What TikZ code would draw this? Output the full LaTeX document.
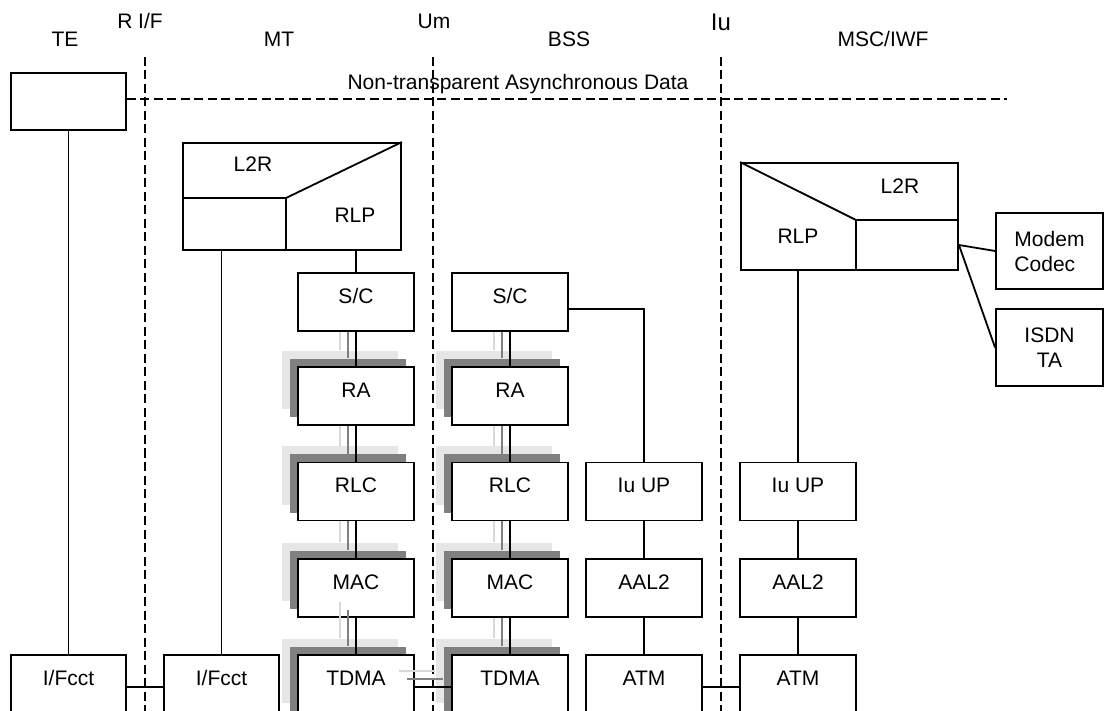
\documentclass[tikz,border=0pt]{standalone}
\usepackage{fontspec}
\setmainfont{Liberation Sans}
\usetikzlibrary{calc,shadows}
\definecolor{lightg}{HTML}{E6E6E6}
\definecolor{darkg}{HTML}{808080}
\definecolor{lightl}{HTML}{D9D9D9}
\newcommand{\tripl}[2]{%
  \draw[lnkl] ($(#1.south)+(-16,0)$) -- ($(#2.north)+(-16,-16)$);
  \draw[lnkd] ($(#1.south)+(-8,0)$) -- ($(#2.north)+(-8,-8)$);
  \draw[lnk] (#1) -- (#2);}
\begin{document}
\begin{tikzpicture}[x=1pt,y=-1pt,
  every node/.style={font=\fontsize{21}{25}\selectfont, inner sep=0pt},
  box/.style={draw, fill=white, line width=1.9pt, minimum width=116pt, minimum height=58pt, text depth=12pt},
  botbox/.style={box, minimum height=64pt, text depth=18pt},
  shad/.style={copy shadow={shadow xshift=-16pt, shadow yshift=16pt, fill=lightg, draw=none},
               copy shadow={shadow xshift=-8pt, shadow yshift=8pt, fill=darkg, draw=none}},
  lnk/.style={line width=1.8pt},
  lnkd/.style={line width=1.8pt, draw=darkg},
  lnkl/.style={line width=1.8pt, draw=lightl},
  sep/.style={line width=1.8pt, dash pattern=on 9pt off 4.5pt},
  lbl/.style={anchor=base},
]
\useasboundingbox (0,0) rectangle (1104,711);
\clip (0,0) rectangle (1104,711);

% separators
\coordinate (rt) at (145,57); \coordinate (rb) at (145,711);
\coordinate (ut) at (433,57); \coordinate (ub) at (433,711);
\coordinate (it) at (721,57); \coordinate (ib) at (721,711);
\draw[sep] (rt) -- (rb);
\draw[sep] (ut) -- (ub);
\draw[sep] (it) -- (ib);

% header labels
\node[lbl] (lte) at (65,47) {TE};
\node[lbl] (lrif) at (140,29) {R I/F};
\node[lbl] (lmt) at (279,47) {MT};
\node[lbl] (lum) at (434,29) {Um};
\node[lbl] (lbss) at (569,47) {BSS};
\node[lbl, font=\fontsize{24}{28}\selectfont] (liu) at (721,31) {Iu};
\node[lbl] (lmsc) at (883,47) {MSC/IWF};
\node[lbl] (lnt) at (518,90) {Non-transparent Asynchronous Data};

% TE
\node[box, minimum width=115pt, minimum height=57pt] (tebox) at (68.5,101.5) {};
\coordinate (dend) at (1007,99);
\draw[sep] (tebox.east |- dend) -- (dend);

% MT L2R/RLP
\node[draw, line width=1.9pt, minimum width=218pt, minimum height=107pt] (l2rmt) at (292,196.5) {};
\coordinate (mtk) at (286,198);
\draw[lnk] (l2rmt.west |- mtk) -- (mtk) -- (mtk |- l2rmt.south);
\draw[lnk] (mtk) -- (l2rmt.north east);
\node (tl2rmt) at (253,164) {L2R};
\node (trlpmt) at (355,215) {RLP};

% MSC L2R/RLP
\node[draw, line width=1.9pt, minimum width=217pt, minimum height=107pt] (l2rmsc) at (849.5,216.5) {};
\coordinate (mk) at (856,220);
\draw[lnk] (l2rmsc.north west) -- (mk) -- (l2rmsc.east |- mk);
\draw[lnk] (mk) -- (mk |- l2rmsc.south);
\node (tl2rmsc) at (900,186) {L2R};
\node (trlpmsc) at (798,236) {RLP};

\node[draw, line width=1.9pt, minimum width=107pt, minimum height=76pt, align=left] (modem) at (1049.5,251) {Modem\\Codec};
\node[draw, line width=1.9pt, minimum width=107pt, minimum height=77pt, align=center] (isdn) at (1049.5,347.5) {ISDN\\TA};
\coordinate (lp) at ($(l2rmsc.east)+(0,28.5)$);
\draw[lnk] (lp) -- (modem.west);
\draw[lnk] (lp) -- (isdn.west);

% bottom interface boxes
\node[botbox, minimum width=115pt] (ifte) at (68.5,687) {I/Fcct};
\node[botbox, minimum width=115pt] (ifmt) at (221.5,687) {I/Fcct};

% MT stack
\node[box] (scmt) at (356,302) {S/C};
\node[box, shad] (ramt) at (356,396) {RA};
\node[box, shad] (rlcmt) at (356,491.5) {RLC};
\node[box, shad] (macmt) at (356,588) {MAC};
\node[botbox, shad] (tdmamt) at (356,687) {TDMA};

% BSS stack
\node[box] (scbss) at (510,302) {S/C};
\node[box, shad] (rabss) at (510,396) {RA};
\node[box, shad] (rlcbss) at (510,491.5) {RLC};
\node[box, shad] (macbss) at (510,588) {MAC};
\node[botbox, shad] (tdmabss) at (510,687) {TDMA};

\node[box] (iubss) at (644,491.5) {Iu UP};
\node[box] (aalbss) at (644,588) {AAL2};
\node[botbox] (atmbss) at (644,687) {ATM};

\node[box] (iumsc) at (798,491.5) {Iu UP};
\node[box] (aalmsc) at (798,588) {AAL2};
\node[botbox] (atmmsc) at (798,687) {ATM};

% connectors
\draw[lnk] (ifte) -- (tebox);
\draw[lnk] (ifte) -- (ifmt);
\draw[lnk] (ifmt.north) -- (ifmt.north |- l2rmt.south);
\draw[lnk] (scmt.north) -- (scmt.north |- l2rmt.south);
\draw[lnk] (iumsc.north) -- (iumsc.north |- l2rmsc.south);

\tripl{scmt}{ramt}
\tripl{ramt}{rlcmt}
\tripl{rlcmt}{macmt}
\draw[lnkl] ($(macmt.south)+(-16,-16)$) -- ($(tdmamt.north)+(-16,-16)$);
\draw[lnkd] ($(macmt.south)+(-8,-8)$) -- ($(tdmamt.north)+(-8,-8)$);
\draw[lnk] (macmt) -- (tdmamt);

\tripl{scbss}{rabss}
\tripl{rabss}{rlcbss}
\tripl{rlcbss}{macbss}
\tripl{macbss}{tdmabss}

\draw[lnkl] ($(tdmamt.east)+(-16,-16)$) -- ($(tdmabss.west)+(-16,-16)$);
\draw[lnkd] ($(tdmamt.east)+(-8,-8)$) -- ($(tdmabss.west)+(-8,-8)$);
\draw[lnk] (tdmamt) -- (tdmabss);

\draw[lnk] ([yshift=-7pt]scbss.east) -| (iubss.north);
\draw[lnk] (iubss) -- (aalbss);
\draw[lnk] (aalbss) -- (atmbss);
\draw[lnk] (iumsc) -- (aalmsc);
\draw[lnk] (aalmsc) -- (atmmsc);
\draw[lnk] (atmbss) -- (atmmsc);
\end{tikzpicture}
\end{document}
